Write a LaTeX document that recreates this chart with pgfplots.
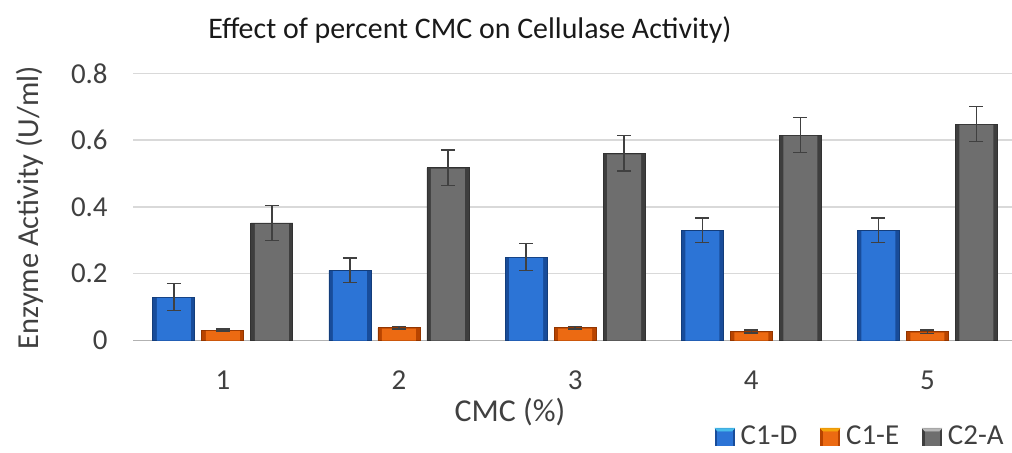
\documentclass[border=0pt]{standalone}
\usepackage{pgfplots}
\usepackage{pgfplotstable}
\pgfplotsset{compat=1.18}
\usepackage{fontspec}
\setmainfont{Carlito}
\definecolor{bluec}{HTML}{2C74D6}
\definecolor{bluee}{HTML}{184C9A}
\definecolor{orc}{HTML}{EC6A12}
\definecolor{ore}{HTML}{B84400}
\definecolor{grc}{HTML}{6E6E6E}
\definecolor{gre}{HTML}{3E3E3E}
\definecolor{txt}{HTML}{404040}
\pgfplotstableread{
x y err
1 0.13 0.04
2 0.21 0.037
3 0.25 0.04
4 0.33 0.037
5 0.33 0.037
}\cod
\pgfplotstableread{
x y err
1 0.031 0.003
2 0.038 0.004
3 0.038 0.004
4 0.027 0.005
5 0.026 0.005
}\coe
\pgfplotstableread{
x y err
1 0.352 0.053
2 0.517 0.053
3 0.560 0.053
4 0.615 0.053
5 0.648 0.053
}\cta
\begin{document}
\begin{tikzpicture}
\useasboundingbox (0,0) rectangle (506bp,226.5bp);
\begin{axis}[
  at={(66.5bp,56.25bp)}, anchor=south west,
  scale only axis, width=439.5bp, height=133.6bp,
  xmin=0.49, xmax=5.48, ymin=0, ymax=0.8,
  ytick={0,0.2,0.4,0.6,0.8},
  yticklabels={0,0.2,0.4,0.6,0.8},
  xtick={1,2,3,4,5},
  xticklabels={1,2,3,4,5},
  ymajorgrids, grid style={draw=black!15, line width=0.75bp},
  axis x line=bottom, axis y line=left,
  x axis line style={-, draw=black!30, line width=0.75bp},
  y axis line style={draw=none},
  major tick length=0pt,
  tick label style={font=\fontsize{14.5}{16}\selectfont, text=txt},
  yticklabel style={anchor=east, inner sep=0pt, xshift=-12.5bp},
  xticklabel style={anchor=center, inner sep=0pt, yshift=-20bp},
  error bars/error bar style={line width=0.7bp, draw=black!75},
  error bars/error mark options={line width=0.7bp, draw=black!75, mark size=3.5bp, rotate=90},
  legend style={at={(0.992,-0.36)}, anchor=east, draw=none, fill=none,
    inner sep=0pt, nodes={inner sep=0.5bp},
    legend columns=3, font=\fontsize{14.5}{15}\selectfont, text=txt,
    /tikz/every odd column/.append style={column sep=2.5bp},
    /tikz/every even column/.append style={column sep=11bp}},
  clip=false,
]
% C1-D
\addplot[ybar, bar width=21bp, bar shift=-24.5bp, fill=bluee, draw=bluee!80!black, line width=0.4bp,
  legend image code/.code={\fill[bluee] (0bp,-4.2bp) rectangle (9.5bp,4.2bp);
    \fill[bluec] (1.2bp,-4.2bp) rectangle (8.3bp,2.8bp);
    \fill[bluec!60!cyan!80!white] (1.2bp,2.8bp) -- (8.3bp,2.8bp) -- (9.5bp,4.2bp) -- (0bp,4.2bp) -- cycle;}]
  table[x=x,y=y] {\cod};
\addlegendentry{C1-D}
% C1-E
\addplot[ybar, bar width=21bp, bar shift=0bp, fill=ore, draw=ore!80!black, line width=0.4bp,
  legend image code/.code={\fill[ore] (0bp,-4.2bp) rectangle (9.5bp,4.2bp);
    \fill[orc] (1.2bp,-4.2bp) rectangle (8.3bp,2.8bp);
    \fill[orc!60!yellow] (1.2bp,2.8bp) -- (8.3bp,2.8bp) -- (9.5bp,4.2bp) -- (0bp,4.2bp) -- cycle;}]
  table[x=x,y=y] {\coe};
\addlegendentry{C1-E}
% C2-A
\addplot[ybar, bar width=21bp, bar shift=24.5bp, fill=gre, draw=gre!80!black, line width=0.4bp,
  legend image code/.code={\fill[gre] (0bp,-4.2bp) rectangle (9.5bp,4.2bp);
    \fill[grc] (1.2bp,-4.2bp) rectangle (8.3bp,2.8bp);
    \fill[grc!50!white] (1.2bp,2.8bp) -- (8.3bp,2.8bp) -- (9.5bp,4.2bp) -- (0bp,4.2bp) -- cycle;}]
  table[x=x,y=y] {\cta};
\addlegendentry{C2-A}
% inner lighter faces
\addplot[ybar, bar width=17bp, bar shift=-24.5bp, fill=bluec, draw=none, forget plot]
  table[x=x,y expr=\thisrow{y}-0.0025] {\cod};
\addplot[ybar, bar width=17bp, bar shift=0bp, fill=orc, draw=none, forget plot]
  table[x=x,y expr=\thisrow{y}-0.0025] {\coe};
\addplot[ybar, bar width=17bp, bar shift=24.5bp, fill=grc, draw=none, forget plot]
  table[x=x,y expr=\thisrow{y}-0.0025] {\cta};
% error bars
\addplot[draw=none, no markers, forget plot, xshift=-24.5bp,
  error bars/.cd, y dir=both, y explicit]
  table[x=x,y=y,y error=err] {\cod};
\addplot[draw=none, no markers, forget plot,
  error bars/.cd, y dir=both, y explicit]
  table[x=x,y=y,y error=err] {\coe};
\addplot[draw=none, no markers, forget plot, xshift=24.5bp,
  error bars/.cd, y dir=both, y explicit]
  table[x=x,y=y,y error=err] {\cta};
\end{axis}
\node[font=\fontsize{15}{17}\selectfont, text=black!90] at (235bp,211.5bp) {Effect of percent CMC on Cellulase Activity)};
\node[font=\fontsize{15.3}{17}\selectfont, text=txt, rotate=90] at (15bp,122.5bp) {Enzyme Activity (U/ml)};
\node[font=\fontsize{16}{18}\selectfont, text=txt] at (255bp,20.5bp) {CMC (\%)};
\end{tikzpicture}
\end{document}
